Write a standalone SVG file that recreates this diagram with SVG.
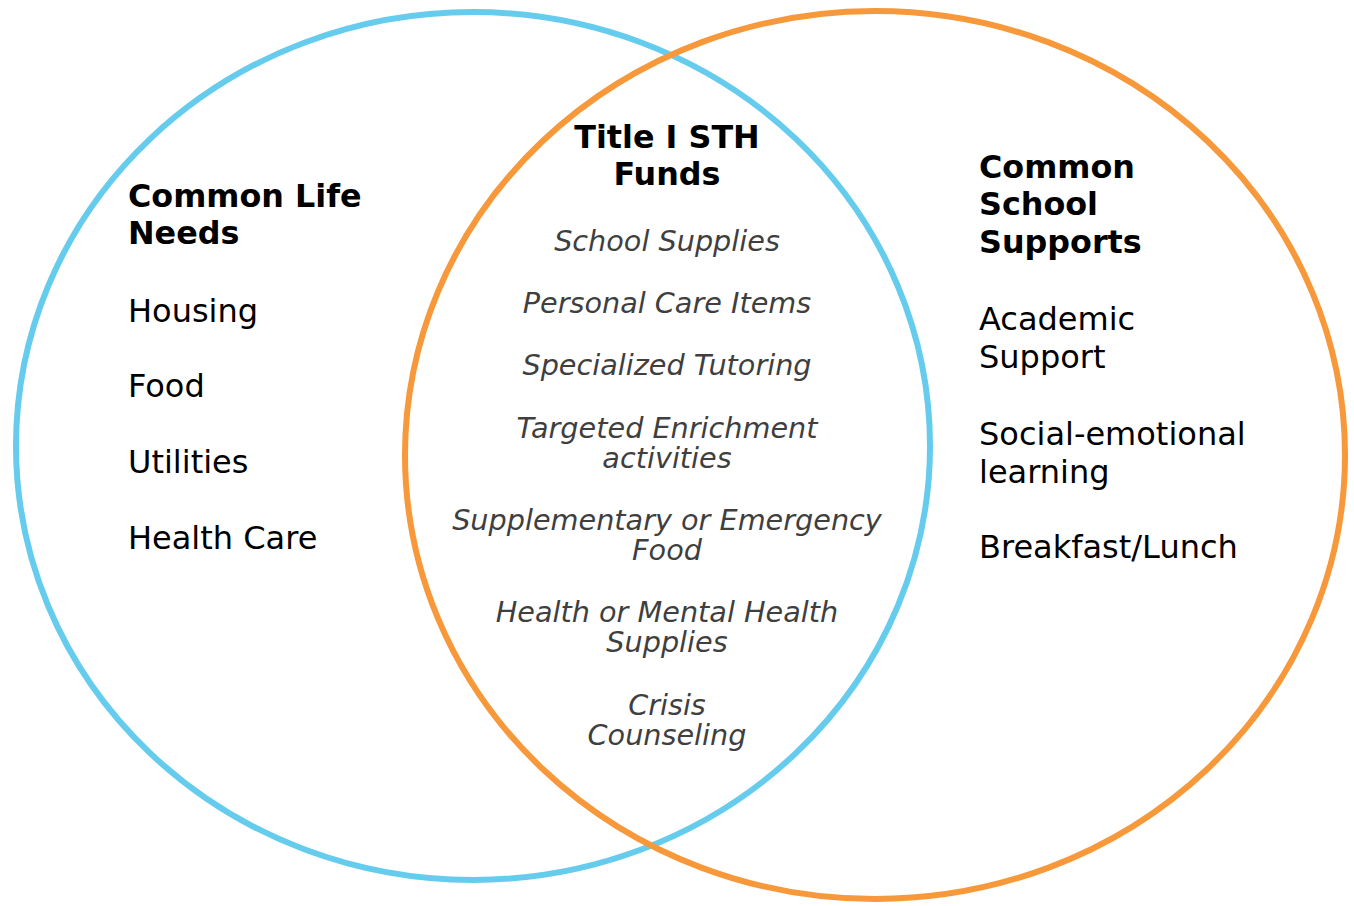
<svg xmlns="http://www.w3.org/2000/svg" width="1354" height="906" viewBox="0 0 1354 906">
<style>
.h{font-family:"DejaVu Sans",Verdana,sans-serif;font-weight:bold;font-size:31.8px;fill:#000}
.t{font-family:"DejaVu Sans",Verdana,sans-serif;font-size:32px;fill:#000}
.i{font-family:"DejaVu Sans",Verdana,sans-serif;font-style:italic;font-size:28.7px;fill:#3f3f3f;text-anchor:middle}
.c{text-anchor:middle}
</style>
<rect width="1354" height="906" fill="#fff"/>
<g id="circles">
<ellipse id="blue" cx="473" cy="446" rx="457" ry="434" fill="none" stroke="#66CCEE" stroke-width="6"/>
<ellipse id="orange" cx="875" cy="455" rx="470" ry="444" fill="none" stroke="#F7983A" stroke-width="6"/>
</g>
<g id="life">
<text class="h" x="128" y="207">Common Life</text>
<text class="h" x="128" y="244">Needs</text>
<text class="t" x="128" y="322">Housing</text>
<text class="t" x="128" y="397">Food</text>
<text class="t" x="128" y="473">Utilities</text>
<text class="t" x="128" y="549">Health Care</text>
</g>
<g id="title">
<text class="h c" x="667" y="148" text-anchor="middle">Title I STH</text>
<text class="h c" x="667" y="185" text-anchor="middle">Funds</text>
<text class="i" x="667" y="251">School Supplies</text>
<text class="i" x="667" y="313">Personal Care Items</text>
<text class="i" x="667" y="375">Specialized Tutoring</text>
<text class="i" x="667" y="438">Targeted Enrichment</text>
<text class="i" x="667" y="468">activities</text>
<text class="i" x="667" y="530">Supplementary or Emergency</text>
<text class="i" x="667" y="560">Food</text>
<text class="i" x="667" y="622">Health or Mental Health</text>
<text class="i" x="667" y="652">Supplies</text>
<text class="i" x="667" y="715">Crisis</text>
<text class="i" x="667" y="745">Counseling</text>
</g>
<g id="school">
<text class="h" x="979" y="178">Common</text>
<text class="h" x="979" y="215">School</text>
<text class="h" x="979" y="253">Supports</text>
<text class="t" x="979" y="330">Academic</text>
<text class="t" x="979" y="368">Support</text>
<text class="t" x="979" y="445">Social-emotional</text>
<text class="t" x="979" y="483">learning</text>
<text class="t" x="979" y="558">Breakfast/Lunch</text>
</g>
</svg>
